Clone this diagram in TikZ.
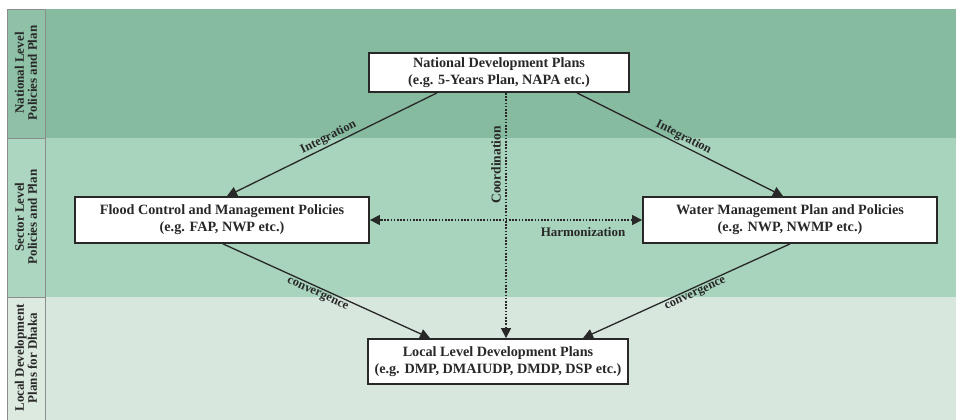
\documentclass[tikz,border=0pt]{standalone}
\usepackage{fontspec}
\setmainfont{Liberation Serif}
\usetikzlibrary{arrows.meta,calc}
\definecolor{bandA}{RGB}{134,187,160}
\definecolor{bandB}{RGB}{168,211,188}
\definecolor{bandC}{RGB}{216,231,221}
\definecolor{labA}{RGB}{142,193,166}
\definecolor{labB}{RGB}{172,214,192}
\definecolor{labC}{RGB}{220,234,224}
\definecolor{ink}{RGB}{40,40,40}
\tikzset{
  box/.style={draw=ink,line width=1.8pt,fill=white,align=center,font=\fontsize{14.2}{17}\selectfont\bfseries,text=ink,inner sep=0pt},
  labcell/.style={draw=black!45,line width=0.6pt},
  lab/.style={rotate=90,align=center,font=\fontsize{13}{13}\selectfont\bfseries,text=ink},
  conn/.style={draw=ink,line width=1.3pt,-{Triangle[length=10pt,width=10pt]}},
  tip/.style={draw=ink,line width=1.3pt,-{Triangle[length=10pt,width=10pt]}},
  dotconn/.style={draw=ink,line width=1.8pt,dash pattern=on 1.6pt off 1.6pt},
  elab/.style={font=\fontsize{12.5}{14}\selectfont\bfseries,text=ink,inner sep=1.5pt}
}
\begin{document}
\begin{tikzpicture}[x=1pt,y=-1pt]
\useasboundingbox (0,0) rectangle (956,420);
\fill[white] (0,0) rectangle (956,420);
% bands
\fill[bandA] (45,9) rectangle (956,138);
\fill[bandB] (45,138) rectangle (956,297);
\fill[bandC] (45,297) rectangle (956,420);
\filldraw[labcell,fill=labA] (7,9) rectangle (45,138);
\filldraw[labcell,fill=labB] (7,138) rectangle (45,297);
\filldraw[labcell,fill=labC] (7,297) rectangle (45,420);
\node[lab] (l1) at (26,73) {National Level\\Policies and Plan};
\node[lab] (l2) at (26,217) {Sector Level\\Policies and Plan};
\node[lab] (l3) at (26,358) {Local Development\\Plans for Dhaka};
% nodes
\node[box,minimum width=260,minimum height=39] (nat) at (499,72.5) {National Development Plans\\(e.g. 5-Years Plan, NAPA etc.)};
\node[box,minimum width=294,minimum height=46] (fl) at (222,220) {Flood Control and Management Policies\\(e.g. FAP, NWP etc.)};
\node[box,minimum width=294,minimum height=46] (wa) at (790,220) {Water Management Plan and Policies\\(e.g. NWP, NWMP etc.)};
\node[box,minimum width=260,minimum height=45] (loc) at (498,361.5) {Local Level Development Plans\\(e.g. DMP, DMAIUDP, DMDP, DSP etc.)};
% connectors
\draw[conn] ($(nat.south)+(-62,0)$) -- node[elab,sloped,above,pos=0.5] {Integration} ($(fl.north)+(5,0)$);
\draw[conn] ($(nat.south)+(78,0)$) -- node[elab,sloped,above,pos=0.5] {Integration} ($(wa.north)+(-7,0)$);
\draw[conn] ($(fl.south)+(1,0)$) -- node[elab,sloped,below,pos=0.47] {convergence} ($(loc.north)+(-68,0)$);
\draw[conn] ($(wa.south)+(0,0)$) -- node[elab,sloped,below,pos=0.47] {convergence} ($(loc.north)+(85,0)$);
\draw[dotconn] ($(nat.south)+(7,0)$) -- ($(loc.north)+(8,-11)$);
\draw[tip] ($(loc.north)+(8,-11)$) -- ($(loc.north)+(8,0)$);
\node[elab,rotate=90,font=\fontsize{13.5}{15}\selectfont\bfseries] (co) at (496,165) {Coordination};
\draw[dotconn] ($(fl.east)+(11,0)$) -- ($(wa.west)+(-11,0)$);
\draw[tip] ($(fl.east)+(11,0)$) -- (fl.east);
\draw[tip] ($(wa.west)+(-11,0)$) -- (wa.west);
\node[elab,font=\fontsize{13}{15}\selectfont\bfseries] (ha) at (583,232) {Harmonization};
\end{tikzpicture}
\end{document}
